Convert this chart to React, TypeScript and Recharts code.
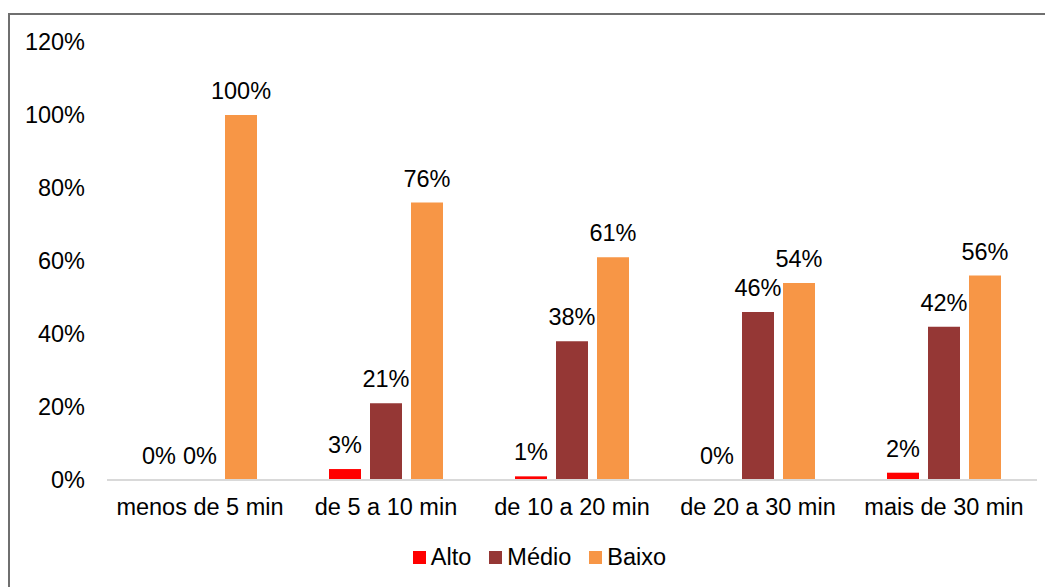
import { Bar, BarChart, LabelList, Legend, XAxis, YAxis } from "recharts";

const categories = ["menos de 5 min", "de 5 a 10 min", "de 10 a 20 min", "de 20 a 30 min", "mais de 30 min"];
const alto = [0, 3, 1, 0, 2];
const medio = [0, 21, 38, 46, 42];
const baixo = [100, 76, 61, 54, 56];
const yTicks = [0, 20, 40, 60, 80, 100, 120];

const SERIES = [
  { key: "Alto", color: "#FF0000" },
  { key: "Médio", color: "#953735" },
  { key: "Baixo", color: "#F79646" },
];

const FONT = "'Liberation Sans', Arial, sans-serif";
const FS = 23.5;

const data = categories.map((c, i) => ({ name: c, Alto: alto[i], Médio: medio[i], Baixo: baixo[i] }));

const pct = (v: any) => `${v}%`;

// value label above each bar, drawn for zero-height bars too
const TopLabel = (p: any) => (
  <text x={p.x + p.width / 2} y={p.y - 16} textAnchor="middle" fontSize={FS} fontFamily={FONT} fill="#000">
    {pct(p.value)}
  </text>
);

function LegendRow() {
  return (
    <div style={{ height: 30, paddingLeft: 32, display: "flex", justifyContent: "center", alignItems: "center", fontFamily: FONT, fontSize: FS, color: "#000" }}>
      {SERIES.map((s) => (
        <span key={s.key} style={{ display: "inline-flex", alignItems: "center", margin: "0 9px" }}>
          <span style={{ width: 13, height: 13, background: s.color, marginRight: 5, display: "inline-block" }} />
          {s.key}
        </span>
      ))}
    </div>
  );
}

export default function App() {
  return (
    <div style={{ position: "relative", width: 1053, height: 587, overflow: "hidden" }}>
      <style>{"body{overflow:hidden}"}</style>
      <div style={{ position: "absolute", left: 0, top: 5, width: 1060, height: 600, border: "2px solid #6f6f6f", background: "#fff" }}>
        <BarChart width={1043} height={572} data={data} margin={{ top: 27, right: 16, bottom: 15, left: 0 }} barSize={32} barGap={9}>
          <XAxis dataKey="name" axisLine={{ stroke: "#D9D9D9", strokeWidth: 2 }} tickLine={false} height={62} tickMargin={12}
                 tick={{ fontSize: FS, fill: "#000", fontFamily: FONT }} interval={0} />
          <YAxis domain={[0, 120]} ticks={yTicks} axisLine={false} tickLine={false} width={97} tickMargin={16}
                 tickFormatter={pct} tick={{ fontSize: FS, fill: "#000", fontFamily: FONT }} />
          <Legend verticalAlign="bottom" content={() => <LegendRow />} />
          {SERIES.map((s) => (
            <Bar key={s.key} dataKey={s.key} fill={s.color} isAnimationActive={false} minPointSize={0.001}>
              <LabelList dataKey={s.key} content={TopLabel} />
            </Bar>
          ))}
        </BarChart>
      </div>
    </div>
  );
}
